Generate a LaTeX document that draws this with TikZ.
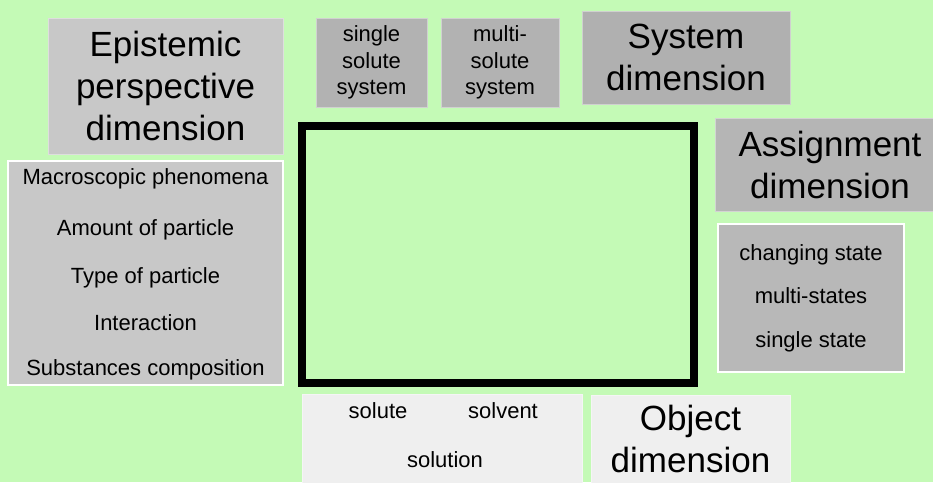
\documentclass[tikz,border=0pt]{standalone}
\usepackage{fontspec}
\setmainfont{Liberation Sans}
\definecolor{bg}{RGB}{196,250,182}
\definecolor{gA}{RGB}{200,200,200}
\definecolor{gB}{RGB}{178,178,178}
\definecolor{gC}{RGB}{176,176,176}
\definecolor{gD}{RGB}{181,181,181}
\definecolor{gE}{RGB}{184,184,184}
\definecolor{gF}{RGB}{239,239,239}
\begin{document}
\begin{tikzpicture}[x=1pt,y=-1pt,
  box/.style={rectangle, inner sep=0pt, outer sep=0pt, align=center, line width=1pt},
  big/.style={font=\fontsize{35}{42}\selectfont},
  small/.style={font=\fontsize{22}{26.5}\selectfont},
  item/.style={font=\fontsize{22}{26}\selectfont, anchor=base, inner sep=0pt},
  frame/.style={rectangle, draw=black, line width=8pt, inner sep=0pt}]
\clip (0,0) rectangle (933,482);
\fill[bg] (0,0) rectangle (933,482);
% title boxes
\node[box, big, fill=gA, draw=gA!60!white, minimum width=235pt, minimum height=136pt] (epi) at (165.5,86) {Epistemic\\perspective\\dimension};
\node[box, small, fill=gB, draw=gB!60!white, minimum width=111pt, minimum height=89pt] (single) at (371.5,62.5) {single\\solute\\system};
\node[box, small, fill=gB, draw=gB!60!white, minimum width=118pt, minimum height=89pt] (multi) at (500,62.5) {multi-\\solute\\system};
\node[box, big, fill=gC, draw=gC!60!white, minimum width=208pt, minimum height=93pt] (sys) at (686,57.5) {System\\dimension};
\node[box, big, fill=gD, draw=gD!60!white, minimum width=230pt, minimum height=93pt] (assign) at (830,164.5) {Assignment\\dimension};
\node[box, big, fill=gF, draw=gF!60!white, minimum width=199pt, minimum height=88pt] (obj) at (690.5,439) {Object\\dimension};
% list boxes
\node[box, fill=gA, draw=white, line width=2pt, minimum width=275pt, minimum height=224pt] (left) at (145.5,273) {};
\node[item] (m1) at (145.5,184) {Macroscopic phenomena};
\node[item] (m2) at (145.5,235) {Amount of particle};
\node[item] (m3) at (145.5,283) {Type of particle};
\node[item] (m4) at (145.5,330) {Interaction};
\node[item] (m5) at (145.5,375) {Substances composition};
\node[box, fill=gE, draw=white, line width=2pt, minimum width=186pt, minimum height=148pt] (right) at (811,298) {};
\node[item] (s1) at (811,260) {changing state};
\node[item] (s2) at (811,303) {multi-states};
\node[item] (s3) at (811,347) {single state};
\node[box, fill=gF, draw=gF!60!white, minimum width=280pt, minimum height=96pt] (sol) at (442,442) {};
\node[item] (o1) at (378,418) {solute};
\node[item] (o2) at (503,418) {solvent};
\node[item] (o3) at (445,467) {solution};
% central frame
\node[frame, minimum width=392pt, minimum height=257pt] (main) at (498,254.5) {};
\end{tikzpicture}
\end{document}
